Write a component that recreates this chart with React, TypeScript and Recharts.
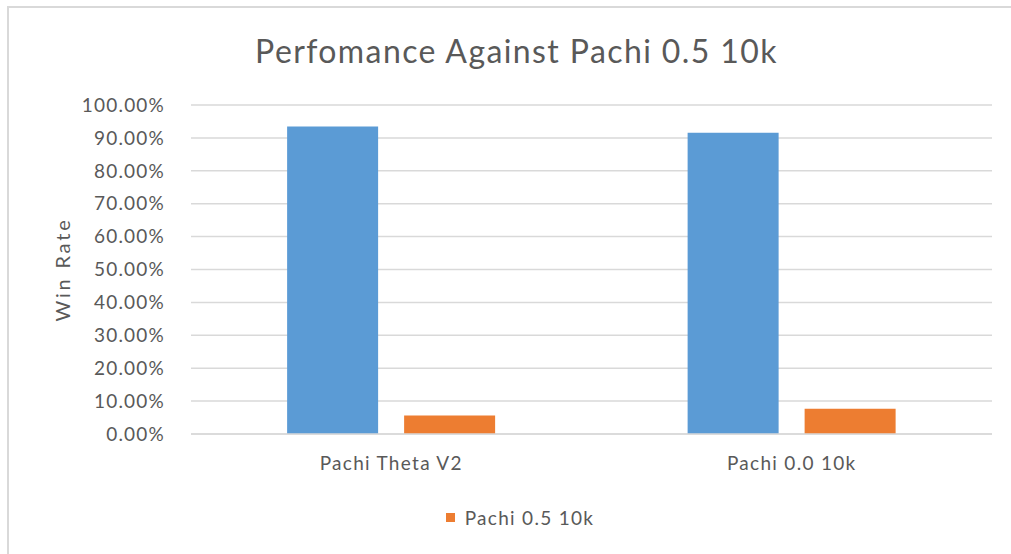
import React from "react";
import {
  BarChart,
  Bar,
  XAxis,
  YAxis,
  CartesianGrid,
  Legend,
  Label,
} from "recharts";

const categories = ["Pachi Theta V2", "Pachi 0.0 10k"];
const seriesA = [93.5, 91.6];
const seriesB = [5.6, 7.7];
const seriesBName = "Pachi 0.5 10k";
const yTicks = [0, 10, 20, 30, 40, 50, 60, 70, 80, 90, 100];
const titleText = "Perfomance Against Pachi 0.5 10k";
const yLabel = "Win Rate";

const data = categories.map((c, i) => ({ name: c, a: seriesA[i], b: seriesB[i] }));

const FONT = "Lato, 'Open Sans', sans-serif";
const GREY = "#595959";

const LegendContent = () => (
  <div
    style={{
      display: "flex",
      justifyContent: "center",
      alignItems: "center",
      fontFamily: FONT,
      fontSize: 19,
      color: GREY,
      letterSpacing: 1.3,
      paddingLeft: 48,
      paddingTop: 2,
    }}
  >
    <span
      style={{
        display: "inline-block",
        width: 9,
        height: 9,
        background: "#ED7D31",
        marginRight: 10,
      }}
    />
    <span>{seriesBName}</span>
  </div>
);

export default function App() {
  return (
    <div
      style={{
        position: "absolute",
        left: 0,
        top: 0,
        width: 1011,
        height: 554,
        background: "#fff",
        overflow: "hidden",
      }}
    >
      <div
        style={{
          position: "absolute",
          left: 7,
          top: 6,
          right: 0,
          bottom: 0,
          borderTop: "2px solid #d9d9d9",
          borderLeft: "2px solid #d9d9d9",
        }}
      />
      <div
        style={{
          position: "absolute",
          left: 0,
          width: 1033,
          top: 31,
          textAlign: "center",
          fontFamily: FONT,
          fontSize: 32,
          fontWeight: 400,
          color: GREY,
          letterSpacing: 1.4,
          whiteSpace: "nowrap",
        }}
      >
        {titleText}
      </div>
      <div style={{ position: "absolute", left: 0, top: 0 }}>
        <BarChart
          width={1011}
          height={554}
          data={data}
          margin={{ top: 105, right: 19, left: 0, bottom: 0 }}
          barCategoryGap="24%"
          barGap={26}
        >
          <CartesianGrid vertical={false} stroke="#d9d9d9" strokeWidth={1.5} />
          <XAxis
            dataKey="name"
            tickLine={false}
            axisLine={{ stroke: "#d9d9d9", strokeWidth: 1.5 }}
            tickSize={0}
            tickMargin={23}
            height={62}
            tick={{ fill: GREY, fontSize: 19, fontFamily: FONT, letterSpacing: 1.3 }}
            interval={0}
          />
          <YAxis
            width={191}
            domain={[0, 100]}
            ticks={yTicks}
            tickFormatter={(v: number) => `${v.toFixed(2)}%`}
            tickLine={false}
            axisLine={false}
            tickSize={0}
            tickMargin={26}
            tick={{ fill: GREY, fontSize: 19, fontFamily: FONT, letterSpacing: 1.2 }}
          >
            <Label
              value={yLabel}
              angle={-90}
              position="insideLeft"
              offset={63}
              style={{ fill: GREY, fontSize: 20, fontFamily: FONT, letterSpacing: 2.8, textAnchor: "middle" }}
            />
          </YAxis>
          <Legend
            verticalAlign="bottom"
            height={50}
            content={<LegendContent />}
            wrapperStyle={{ paddingTop: 8 }}
          />
          <Bar dataKey="a" fill="#5B9BD5" isAnimationActive={false} legendType="none" />
          <Bar dataKey="b" name={seriesBName} fill="#ED7D31" isAnimationActive={false} />
        </BarChart>
      </div>
    </div>
  );
}
